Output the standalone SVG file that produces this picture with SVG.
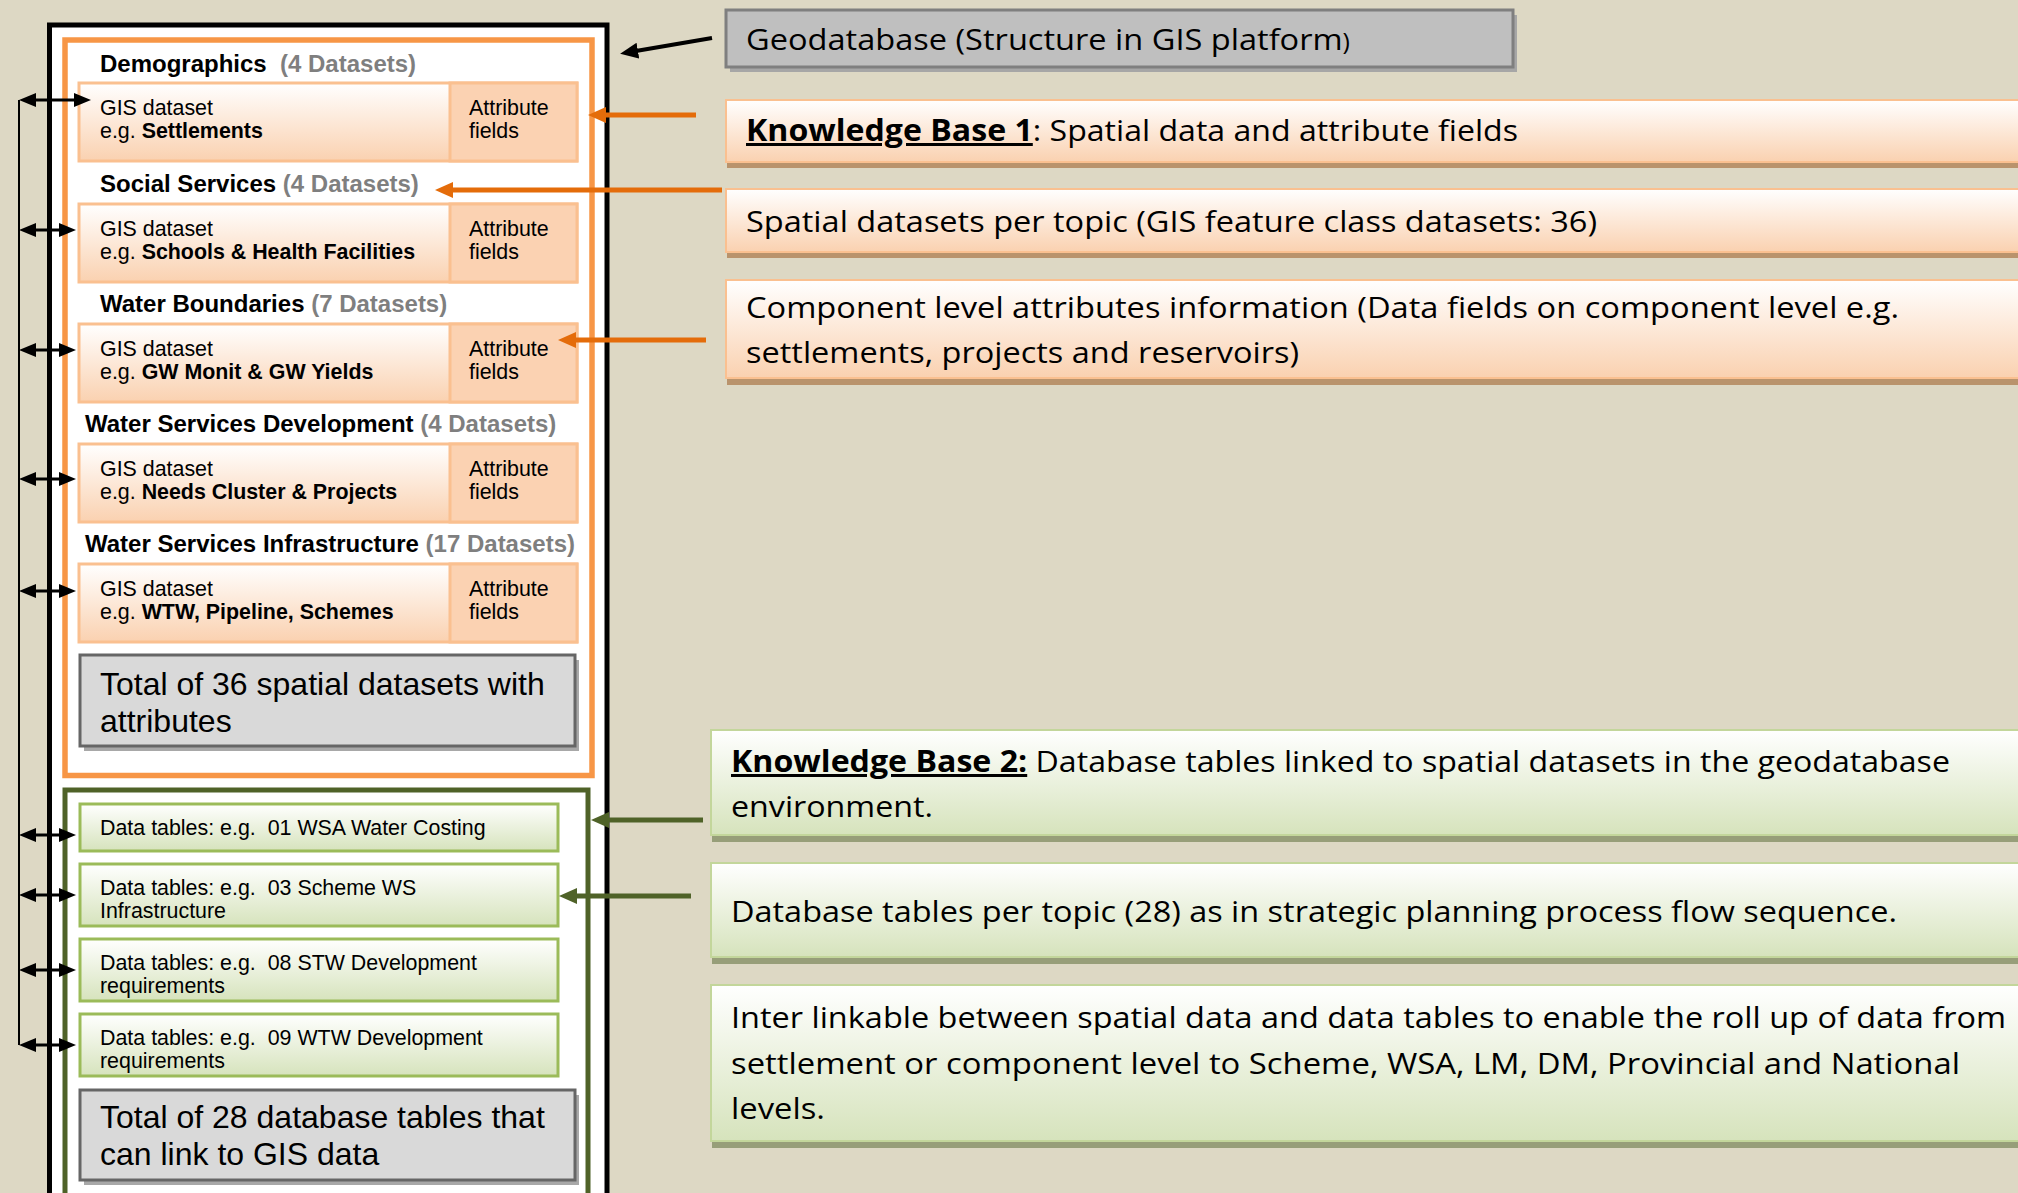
<svg xmlns="http://www.w3.org/2000/svg" width="2018" height="1193" viewBox="0 0 2018 1193">
<style>
.hd{font-family:"Liberation Sans",Arial,sans-serif;font-size:24px;font-weight:bold;fill:#000}
.cnt{fill:#7F7F7F}
.ds{font-family:"Liberation Sans",Arial,sans-serif;font-size:21.4px;fill:#000}
.b{font-weight:bold}
.tot{font-family:"Liberation Sans",Arial,sans-serif;font-size:32px;fill:#000}
.rt{font-family:"Open Sans","Noto Sans",sans-serif;font-size:30px;fill:#000}
.ul{text-decoration:underline;font-weight:bold}
.dsbox{fill:url(#gOr);stroke:#FAC090;stroke-width:3}
.attr{fill:#FBD2B2;stroke:#FAC090;stroke-width:3}
.tbl{fill:url(#gGr);stroke:#9BBB59;stroke-width:3}
.totbox{fill:#D9D9D9;stroke:#666666;stroke-width:3}
.shd{fill:#A8A8A8}
.kbo{fill:url(#gOr);stroke:#FAC090;stroke-width:2}
.kbg{fill:url(#gGr);stroke:#C3D69B;stroke-width:2}
.shO{fill:#B9936C}
.shG{fill:#979E79}
.blk{stroke:#000;stroke-width:3;fill:none}
.org{stroke:#E46C0A;stroke-width:5;fill:none}
.grn{stroke:#4F6228;stroke-width:5;fill:none}
</style>
<defs>
<linearGradient id="gOr" x1="0" y1="0" x2="0" y2="1">
<stop offset="0" stop-color="#FFFFFF"/>
<stop offset="1" stop-color="#FAD1B0"/>
</linearGradient>
<linearGradient id="gGr" x1="0" y1="0" x2="0" y2="1">
<stop offset="0" stop-color="#FFFFFF"/>
<stop offset="1" stop-color="#D6E3BC"/>
</linearGradient>
<marker id="mB" markerUnits="userSpaceOnUse" viewBox="0 0 17 14" refX="7" refY="7" markerWidth="17" markerHeight="14" orient="auto-start-reverse">
<path d="M0,0 L17,7 L0,14 z" fill="#000"/>
</marker>
<marker id="mO" markerUnits="userSpaceOnUse" viewBox="0 0 18 16" refX="8" refY="8" markerWidth="18" markerHeight="16" orient="auto">
<path d="M0,0 L18,8 L0,16 z" fill="#E46C0A"/>
</marker>
<marker id="mG" markerUnits="userSpaceOnUse" viewBox="0 0 18 16" refX="8" refY="8" markerWidth="18" markerHeight="16" orient="auto">
<path d="M0,0 L18,8 L0,16 z" fill="#4F6228"/>
</marker>
<marker id="mK" markerUnits="userSpaceOnUse" viewBox="0 0 18 16" refX="8" refY="8" markerWidth="18" markerHeight="16" orient="auto">
<path d="M0,0 L18,8 L0,16 z" fill="#000"/>
</marker>
</defs>
<rect x="0" y="0" width="2018" height="1193" fill="#DDD8C4"/>

<g id="geodatabase-frame">
<rect x="49.5" y="25" width="557.5" height="1200" fill="#FFFFFF" stroke="#000" stroke-width="5"/>
</g>
<g id="kb1-frame">
<rect x="65" y="40" width="527" height="735.5" fill="#FFFFFF" stroke="#F79646" stroke-width="5.5"/>
</g>
<g id="kb2-frame">
<rect x="65" y="790" width="523" height="440" fill="#FFFFFF" stroke="#4F6228" stroke-width="5"/>
</g>

<g id="ds-demographics">
<text class="hd" x="100" y="72">Demographics<tspan class="cnt" x="280">(4 Datasets)</tspan></text>
<rect class="dsbox" x="79" y="83" width="498" height="78"/>
<rect class="attr" x="450" y="83" width="127" height="78"/>
<text class="ds" x="100" y="115">GIS dataset</text>
<text class="ds" x="100" y="138">e.g. <tspan class="b">Settlements</tspan></text>
<text class="ds" x="469" y="115">Attribute</text>
<text class="ds" x="469" y="138">fields</text>
</g>
<g id="ds-social">
<text class="hd" x="100" y="192">Social Services <tspan class="cnt">(4 Datasets)</tspan></text>
<rect class="dsbox" x="79" y="204" width="498" height="78"/>
<rect class="attr" x="450" y="204" width="127" height="78"/>
<text class="ds" x="100" y="236">GIS dataset</text>
<text class="ds" x="100" y="259">e.g. <tspan class="b">Schools &amp; Health Facilities</tspan></text>
<text class="ds" x="469" y="236">Attribute</text>
<text class="ds" x="469" y="259">fields</text>
</g>
<g id="ds-water-boundaries">
<text class="hd" x="100" y="312">Water Boundaries <tspan class="cnt">(7 Datasets)</tspan></text>
<rect class="dsbox" x="79" y="324" width="498" height="78"/>
<rect class="attr" x="450" y="324" width="127" height="78"/>
<text class="ds" x="100" y="356">GIS dataset</text>
<text class="ds" x="100" y="379">e.g. <tspan class="b">GW Monit &amp; GW Yields</tspan></text>
<text class="ds" x="469" y="356">Attribute</text>
<text class="ds" x="469" y="379">fields</text>
</g>
<g id="ds-ws-development">
<text class="hd" x="85" y="432">Water Services Development <tspan class="cnt">(4 Datasets)</tspan></text>
<rect class="dsbox" x="79" y="444" width="498" height="78"/>
<rect class="attr" x="450" y="444" width="127" height="78"/>
<text class="ds" x="100" y="476">GIS dataset</text>
<text class="ds" x="100" y="499">e.g. <tspan class="b">Needs Cluster &amp; Projects</tspan></text>
<text class="ds" x="469" y="476">Attribute</text>
<text class="ds" x="469" y="499">fields</text>
</g>
<g id="ds-ws-infrastructure">
<text class="hd" x="85" y="552">Water Services Infrastructure <tspan class="cnt">(17 Datasets)</tspan></text>
<rect class="dsbox" x="79" y="564" width="498" height="78"/>
<rect class="attr" x="450" y="564" width="127" height="78"/>
<text class="ds" x="100" y="596">GIS dataset</text>
<text class="ds" x="100" y="619">e.g. <tspan class="b">WTW, Pipeline, Schemes</tspan></text>
<text class="ds" x="469" y="596">Attribute</text>
<text class="ds" x="469" y="619">fields</text>
</g>
<g id="total-spatial">
<rect class="shd" x="84" y="660" width="495" height="91"/>
<rect class="totbox" x="80" y="655" width="495" height="91"/>
<text class="tot" x="100" y="695">Total of 36 spatial datasets with</text>
<text class="tot" x="100" y="732">attributes</text>
</g>

<g id="tbl-01">
<rect class="tbl" x="80" y="804" width="478" height="47"/>
<text class="ds" x="100" y="835">Data tables: e.g.&#160; 01 WSA Water Costing</text>
</g>
<g id="tbl-03">
<rect class="tbl" x="80" y="864" width="478" height="62"/>
<text class="ds" x="100" y="895">Data tables: e.g.&#160; 03 Scheme WS</text>
<text class="ds" x="100" y="918">Infrastructure</text>
</g>
<g id="tbl-08">
<rect class="tbl" x="80" y="939" width="478" height="62"/>
<text class="ds" x="100" y="970">Data tables: e.g.&#160; 08 STW Development</text>
<text class="ds" x="100" y="993">requirements</text>
</g>
<g id="tbl-09">
<rect class="tbl" x="80" y="1014" width="478" height="62"/>
<text class="ds" x="100" y="1045">Data tables: e.g.&#160; 09 WTW Development</text>
<text class="ds" x="100" y="1068">requirements</text>
</g>
<g id="total-tables">
<rect class="shd" x="84" y="1095" width="495" height="90"/>
<rect class="totbox" x="80" y="1090" width="495" height="90"/>
<text class="tot" x="100" y="1128">Total of 28 database tables that</text>
<text class="tot" x="100" y="1165">can link to GIS data</text>
</g>

<g id="geodatabase-label">
<rect x="730" y="15" width="787" height="57" fill="#A6A6A6"/>
<rect x="726" y="10" width="787" height="57" fill="#BFBFBF" stroke="#7F7F7F" stroke-width="3"/>
<text class="rt" x="746" y="50" textLength="604" lengthAdjust="spacingAndGlyphs">Geodatabase (Structure in GIS platform<tspan font-size="23">)</tspan></text>
</g>
<g id="kb1-title">
<rect class="shO" x="727" y="162" width="1300" height="6"/>
<rect class="kbo" x="726" y="100" width="1300" height="62"/>
<text class="rt" x="746" y="141" textLength="772" lengthAdjust="spacingAndGlyphs"><tspan class="ul">Knowledge Base 1</tspan>: Spatial data and attribute fields</text>
</g>
<g id="kb1-spatial">
<rect class="shO" x="727" y="252" width="1300" height="6"/>
<rect class="kbo" x="726" y="189" width="1300" height="63"/>
<text class="rt" x="746" y="232" textLength="851" lengthAdjust="spacingAndGlyphs">Spatial datasets per topic (GIS feature class datasets: 36)</text>
</g>
<g id="kb1-component">
<rect class="shO" x="727" y="378" width="1300" height="7"/>
<rect class="kbo" x="726" y="280" width="1300" height="98"/>
<text class="rt" x="746" y="318" textLength="1153" lengthAdjust="spacingAndGlyphs">Component level attributes information (Data fields on component level e.g.</text>
<text class="rt" x="746" y="363" textLength="553" lengthAdjust="spacingAndGlyphs">settlements, projects and reservoirs)</text>
</g>
<g id="kb2-title">
<rect class="shG" x="712" y="835" width="1320" height="7"/>
<rect class="kbg" x="711" y="730" width="1320" height="105"/>
<text class="rt" x="731" y="772" textLength="1219" lengthAdjust="spacingAndGlyphs"><tspan class="ul">Knowledge Base 2:</tspan> Database tables linked to spatial datasets in the geodatabase</text>
<text class="rt" x="731" y="817" textLength="202" lengthAdjust="spacingAndGlyphs">environment.</text>
</g>
<g id="kb2-tables">
<rect class="shG" x="712" y="957" width="1320" height="7"/>
<rect class="kbg" x="711" y="863" width="1320" height="94"/>
<text class="rt" x="731" y="922" textLength="1166" lengthAdjust="spacingAndGlyphs">Database tables per topic (28) as in strategic planning process flow sequence.</text>
</g>
<g id="kb2-interlink">
<rect class="shG" x="712" y="1141" width="1320" height="7"/>
<rect class="kbg" x="711" y="985" width="1320" height="156"/>
<text class="rt" x="731" y="1028" textLength="1275" lengthAdjust="spacingAndGlyphs">Inter linkable between spatial data and data tables to enable the roll up of data from</text>
<text class="rt" x="731" y="1074" textLength="1229" lengthAdjust="spacingAndGlyphs">settlement or component level to Scheme, WSA, LM, DM, Provincial and National</text>
<text class="rt" x="731" y="1119" textLength="94" lengthAdjust="spacingAndGlyphs">levels.</text>
</g>

<g id="connectors">
<line x1="19" y1="100" x2="19" y2="1045" stroke="#000" stroke-width="2"/>
<line class="blk" x1="29" y1="100" x2="81" y2="100" marker-start="url(#mB)" marker-end="url(#mB)"/>
<line class="blk" x1="29" y1="230" x2="66" y2="230" marker-start="url(#mB)" marker-end="url(#mB)"/>
<line class="blk" x1="29" y1="350" x2="66" y2="350" marker-start="url(#mB)" marker-end="url(#mB)"/>
<line class="blk" x1="29" y1="479" x2="66" y2="479" marker-start="url(#mB)" marker-end="url(#mB)"/>
<line class="blk" x1="29" y1="591" x2="66" y2="591" marker-start="url(#mB)" marker-end="url(#mB)"/>
<line class="blk" x1="29" y1="835" x2="66" y2="835" marker-start="url(#mB)" marker-end="url(#mB)"/>
<line class="blk" x1="29" y1="895" x2="66" y2="895" marker-start="url(#mB)" marker-end="url(#mB)"/>
<line class="blk" x1="29" y1="970" x2="66" y2="970" marker-start="url(#mB)" marker-end="url(#mB)"/>
<line class="blk" x1="29" y1="1045" x2="66" y2="1045" marker-start="url(#mB)" marker-end="url(#mB)"/>
<line x1="712" y1="38" x2="630" y2="52" stroke="#000" stroke-width="4" marker-end="url(#mK)"/>
<line class="org" x1="696" y1="115" x2="598" y2="115" marker-end="url(#mO)"/>
<line class="org" x1="722" y1="190" x2="445" y2="190" marker-end="url(#mO)"/>
<line class="org" x1="706" y1="340" x2="568" y2="340" marker-end="url(#mO)"/>
<line class="grn" x1="703" y1="820" x2="601" y2="820" marker-end="url(#mG)"/>
<line class="grn" x1="691" y1="896" x2="569" y2="896" marker-end="url(#mG)"/>
</g>
</svg>
